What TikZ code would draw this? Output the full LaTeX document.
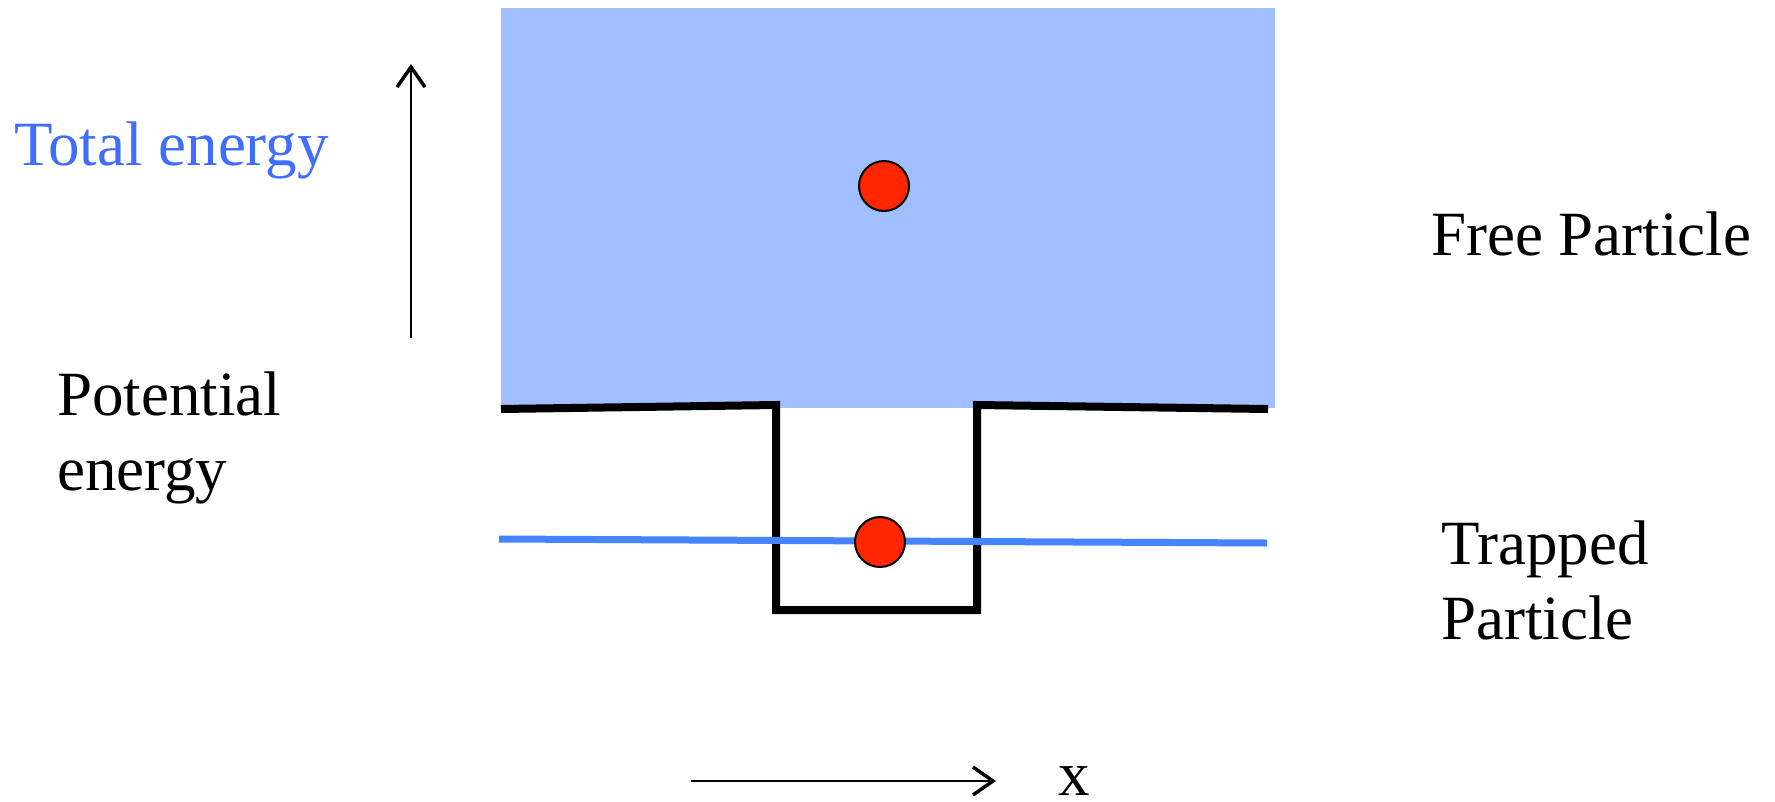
\documentclass[tikz,border=0pt]{standalone}
\usepackage{fontspec}
\setmainfont{Liberation Serif}
\usetikzlibrary{arrows.meta}
\definecolor{fillblue}{HTML}{A1BFFF}
\definecolor{lineblue}{HTML}{4683FF}
\definecolor{textblue}{HTML}{3F6EFF}
\definecolor{dotred}{HTML}{FF2600}
\tikzset{
  wall/.style={line width=8pt, line cap=butt, line join=miter},
  energyline/.style={line width=7pt, lineblue},
  particle/.style={circle, draw=black, line width=2pt, fill=dotred, minimum size=50pt, inner sep=0pt},
  axis/.style={line width=2pt, -{Straight Barb[length=20pt,width=28pt,line width=3.5pt]}},
  label/.style={inner sep=0pt, anchor=base west, font=\fontsize{63}{75}\selectfont},
  twoline/.style={label, align=left}
}
\begin{document}
\begin{tikzpicture}[x=1pt,y=-1pt]
\useasboundingbox (0,0) rectangle (1775,801);
% free-particle energy region
\fill[fillblue] (501,8) rectangle (1275,408);
% potential well
\coordinate (wl0) at (501,409);
\coordinate (wl1) at (776,405);
\coordinate (wb0) at (776,610);
\coordinate (wb1) at (977,610);
\coordinate (wr1) at (977,405);
\coordinate (wr0) at (1268,409);
\draw[wall] (wl0) -- (wl1) -- (wb0) -- (wb1) -- (wr1) -- (wr0);
% trapped energy level
\coordinate (el0) at (499,539);
\coordinate (el1) at (1267,543);
\draw[energyline] (el0) -- (el1);
% particles
\node[particle] (pfree) at (884,186) {};
\node[particle] (ptrap) at (880,542) {};
% axes
\coordinate (ua0) at (411,338);
\coordinate (ua1) at (411,64);
\draw[axis] (ua0) -- (ua1);
\coordinate (xa0) at (691,781);
\coordinate (xa1) at (996,781);
\draw[axis] (xa0) -- (xa1);
% labels
\node[label, textblue] (tot) at (14,165) {Total energy};
\node[twoline] (pot) at (57,490) {Potential\\energy};
\node[label] (free) at (1431,255) {Free Particle};
\node[twoline] (trap) at (1441,639) {Trapped\\Particle};
\node[label] (xl) at (1058,795) {x};
\end{tikzpicture}
\end{document}
